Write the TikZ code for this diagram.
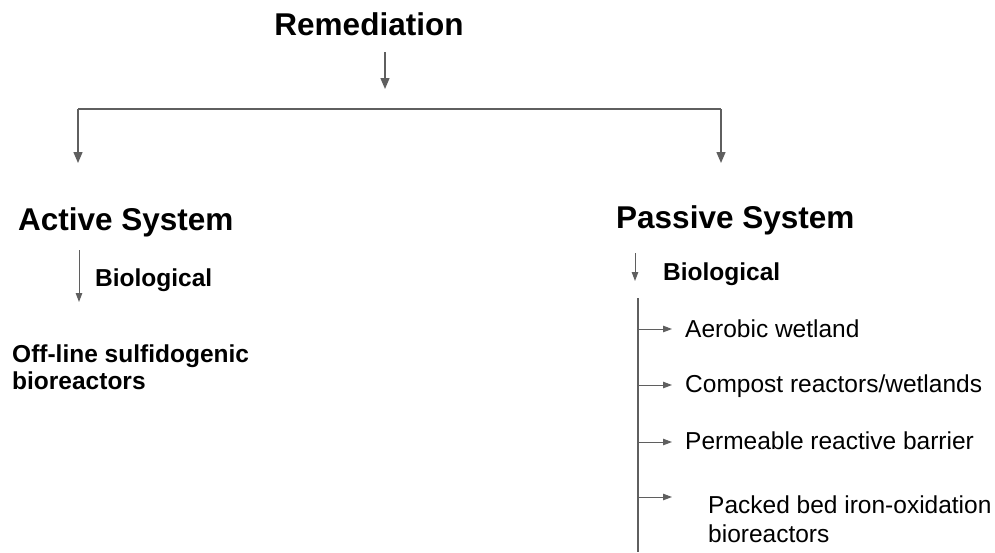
\documentclass[tikz,border=0pt]{standalone}
\usepackage{fontspec}
\setmainfont{Liberation Sans}
\usepackage{xcolor}
\usetikzlibrary{arrows.meta,positioning}
\definecolor{gris}{RGB}{95,95,95}

\begin{document}
\begin{tikzpicture}[
  x=1pt,y=-1pt,
  titulo/.style={inner sep=0pt,font=\fontsize{31.5}{36}\selectfont\bfseries},
  sub/.style={inner sep=0pt,font=\fontsize{24.5}{27}\selectfont\bfseries,align=left},
  item/.style={inner sep=0pt,font=\fontsize{24.5}{29}\selectfont,align=left},
  ar/.style={-{Triangle[length=11pt,width=9pt]},draw=gris,fill=gris,line width=1.4pt},
  arf/.style={-{Triangle[length=9pt,width=6.5pt]},draw=gris,fill=gris,line width=1pt},
  ln/.style={draw=gris,line width=1.4pt}
]
\useasboundingbox (0,0) rectangle (995,552);

% niveles superiores
\node[titulo,anchor=base] (rem) at (369,35) {Remediation};
\node[titulo,anchor=base west] (act) at (18,230) {Active System};
\node[titulo,anchor=base west] (pas) at (616,228) {Passive System};

\coordinate (top) at (385,52);
\coordinate (hub) at (385,89);
\coordinate (barl) at (78,109);
\coordinate (barr) at (721,109);
\draw[ar] (top) -- (hub);
\draw[ln] (barl) -- (barr);
\draw[ar] (barl) -- (78,163);
\draw[ar] (barr) -- (721,163);

% sistema activo
\node[sub,anchor=base west] (bioa) at (95,286) {Biological};
\node[sub,anchor=base west] (off) at (12,389) {Off-line sulfidogenic\\bioreactors};
\draw[arf] (79,250) -- (79,302);

% sistema pasivo
\node[sub,anchor=base west] (biop) at (663,280) {Biological};
\draw[arf] (635,253) -- (635,281);
\coordinate (spine) at (638,298);
\draw[ln,line width=1.2pt] (spine) -- (638,552);

\node[item,anchor=base west] (aer) at (685,337) {Aerobic wetland};
\node[item,anchor=base west] (comp) at (685,392) {Compost reactors/wetlands};
\node[item,anchor=base west] (perm) at (685,449) {Permeable reactive barrier};
\node[item,anchor=base west] (pack) at (708,542) {Packed bed iron-oxidation\\bioreactors};

\draw[arf] (638,329) -- (672,329);
\draw[arf] (638,385) -- (672,385);
\draw[arf] (638,442) -- (672,442);
\draw[arf] (638,497) -- (672,497);
\end{tikzpicture}
\end{document}
